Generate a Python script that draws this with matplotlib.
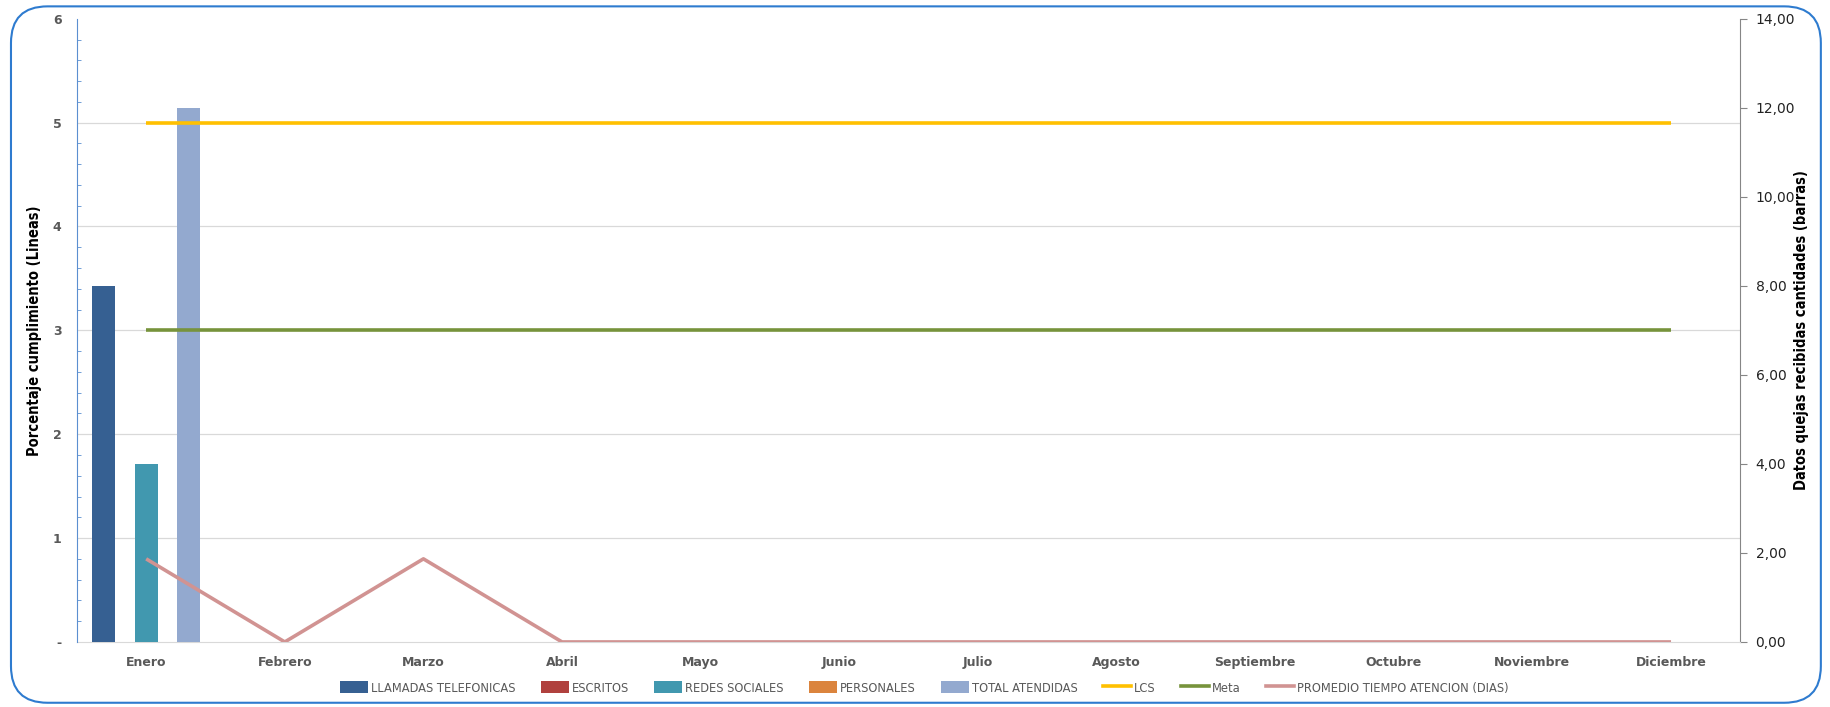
import numpy as np
import matplotlib
matplotlib.use("Agg")
import matplotlib.pyplot as plt
from matplotlib.patches import FancyBboxPatch, Patch
from matplotlib.lines import Line2D
from matplotlib.ticker import MultipleLocator, FuncFormatter
from matplotlib import font_manager

# data
meses = ["Enero", "Febrero", "Marzo", "Abril", "Mayo", "Junio", "Julio",
         "Agosto", "Septiembre", "Octubre", "Noviembre", "Diciembre"]
llamadas = [8, 0, 0, 0, 0, 0, 0, 0, 0, 0, 0, 0]
escritos = [0, 0, 0, 0, 0, 0, 0, 0, 0, 0, 0, 0]
redes = [4, 0, 0, 0, 0, 0, 0, 0, 0, 0, 0, 0]
personales = [0, 0, 0, 0, 0, 0, 0, 0, 0, 0, 0, 0]
total = [12, 0, 0, 0, 0, 0, 0, 0, 0, 0, 0, 0]
lcs = [5] * 12
meta = [3] * 12
promedio = [0.8, 0, 0.8, 0, 0, 0, 0, 0, 0, 0, 0, 0]

bar_series = [
    ("LLAMADAS TELEFONICAS", llamadas, "#366092"),
    ("ESCRITOS", escritos, "#b0413e"),
    ("REDES SOCIALES", redes, "#4198af"),
    ("PERSONALES", personales, "#db843d"),
    ("TOTAL ATENDIDAS", total, "#93a9cf"),
]
line_series = [
    ("LCS", lcs, "#ffc000"),
    ("Meta", meta, "#77933c"),
    ("PROMEDIO TIEMPO ATENCION (DIAS)", promedio, "#d19392"),
]

narrow_lab = font_manager.FontProperties(family="DejaVu Sans", stretch="condensed",
                                         weight="bold", size=10.5)
narrow_leg = font_manager.FontProperties(family="DejaVu Sans", stretch="condensed", size=9.2)
tick_col = "#595959"

fig = plt.figure(figsize=(18.3, 7.07), dpi=100)
ax = fig.add_axes([0.042, 0.092, 0.909, 0.8815])   # bars, right scale
ax2 = ax.twinx()                                      # lines, left scale

x = np.arange(len(meses))
slot = 0.154
bw = 0.165
for i, (name, vals, col) in enumerate(bar_series):
    ax.bar(x + (i - 2) * slot, vals, bw, color=col, zorder=3)

for name, vals, col in line_series:
    ax2.plot(x, vals, color=col, lw=2.6, solid_capstyle="butt")

# right scale (bars)
ax.set_xlim(-0.5, 11.5)
ax.set_ylim(0, 14)
ax.yaxis.tick_right()
ax.yaxis.set_label_position("right")
ax.yaxis.set_major_locator(MultipleLocator(2))
ax.yaxis.set_major_formatter(FuncFormatter(lambda v, p: ("%.2f" % v).replace(".", ",")))
ax.tick_params(axis="y", which="major", direction="out", length=5, color="#868686",
               labelsize=10, labelcolor="#222222", pad=6)
# grid follows the left scale: every 14/6 on the right scale
ax.yaxis.set_minor_locator(MultipleLocator(14 / 6))
ax.tick_params(axis="y", which="minor", length=0)
ax.grid(axis="y", which="minor", color="#d9d9d9", lw=0.9, zorder=0)
ax.set_axisbelow(True)
ax.set_ylabel("Datos quejas recibidas cantidades (barras)", fontproperties=narrow_lab,
              labelpad=-1)

ax.set_xticks(x)
ax.set_xticklabels(meses, fontsize=9, fontweight="bold", color=tick_col)
ax.tick_params(axis="x", length=0, pad=10)

for s in ["top", "left"]:
    ax.spines[s].set_visible(False)
ax.spines["right"].set_color("#868686")
ax.spines["bottom"].set_color("#d9d9d9")

# left scale (lines)
ax2.set_ylim(0, 6)
ax2.yaxis.tick_left()
ax2.yaxis.set_label_position("left")
ax2.yaxis.set_major_locator(MultipleLocator(1))
ax2.yaxis.set_minor_locator(MultipleLocator(0.2))
ax2.yaxis.set_major_formatter(FuncFormatter(lambda v, p: "-" if v == 0 else "%d" % v))
ax2.tick_params(axis="y", which="major", direction="in", length=0,
                labelsize=9, labelcolor=tick_col, pad=11)
ax2.tick_params(axis="y", which="minor", direction="in", length=3, color="#5b8fd0")
for lab in ax2.get_yticklabels():
    lab.set_fontweight("bold")
ax2.set_ylabel("Porcentaje cumplimiento (Lineas)", fontproperties=narrow_lab, labelpad=8)
for s in ["top", "right", "bottom"]:
    ax2.spines[s].set_visible(False)
ax2.spines["left"].set_color("#5b8fd0")

# legend
handles = [Patch(facecolor=c, label=n) for n, v, c in bar_series]
handles += [Line2D([0], [0], color=c, lw=2.6, label=n) for n, v, c in line_series]
fig.legend(handles=handles, loc="center", bbox_to_anchor=(0.505, 0.027), ncol=8,
           frameon=False, prop=narrow_leg, handleheight=1.1,
           handlelength=2.2, handletextpad=0.2, columnspacing=2.0, labelcolor=tick_col)

# rounded outer border
border = FancyBboxPatch((0.006, 0.006), 0.989, 0.985, boxstyle="round,pad=0,rounding_size=0.02",
                        transform=fig.transFigure, fill=False, edgecolor="#2e7bcf", lw=1.5,
                        mutation_aspect=1830 / 707)
fig.patches.append(border)

fig.savefig("out.png", dpi=100)
